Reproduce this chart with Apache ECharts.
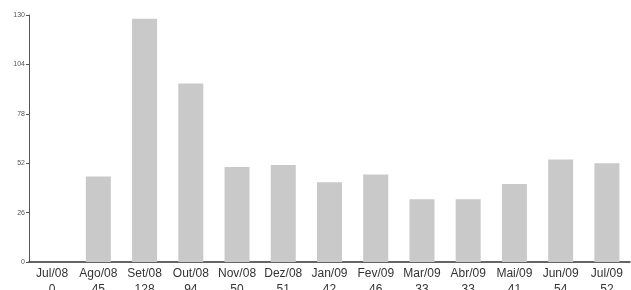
<!DOCTYPE html>
<html>
<head>
<meta charset="utf-8">
<script src="https://cdn.jsdelivr.net/npm/echarts@6/dist/echarts.min.js"></script>
<style>
  html, body { margin: 0; padding: 0; background: #fff; }
  #chart { width: 631px; height: 290px; }
</style>
</head>
<body>
<div id="chart"></div>
<script>
// meses e valores
var months = ['Jul/08', 'Ago/08', 'Set/08', 'Out/08', 'Nov/08', 'Dez/08', 'Jan/09', 'Fev/09', 'Mar/09', 'Abr/09', 'Mai/09', 'Jun/09', 'Jul/09']
var values = [0, 45, 128, 94, 50, 51, 42, 46, 33, 33, 41, 54, 52]
var yMax = 130
var yStep = 26

var myChart = echarts.init(document.getElementById('chart'))
var option = {
  animation: false,
  grid: {
    left: 29,
    right: 1,
    top: 15,
    bottom: 28,
    containLabel: false,
    outerBoundsMode: 'none'
  },
  xAxis: {
    type: 'category',
    data: months,
    axisLine: { lineStyle: { color: '#333', width: 1.5 } },
    axisTick: { show: false },
    axisLabel: {
      interval: 0,
      color: '#333',
      fontSize: 12,
      lineHeight: 16,
      margin: 4,
      fontFamily: 'Liberation Sans',
      formatter: function (v, i) {
        return v + '\n' + values[i]
      }
    }
  },
  yAxis: {
    type: 'value',
    min: 0,
    max: yMax,
    interval: yStep,
    axisLine: { show: true, lineStyle: { color: '#555' } },
    axisTick: { show: true, length: 3, lineStyle: { color: '#555' } },
    splitLine: { show: false },
    axisLabel: {
      color: '#555',
      fontSize: 7,
      margin: 4,
      fontFamily: 'Liberation Sans'
    }
  },
  series: [{
    type: 'bar',
    data: values,
    barWidth: 25,
    itemStyle: {
      color: '#c9c9c9'
    }
  }]
}
myChart.setOption(option)
</script>
</body>
</html>
